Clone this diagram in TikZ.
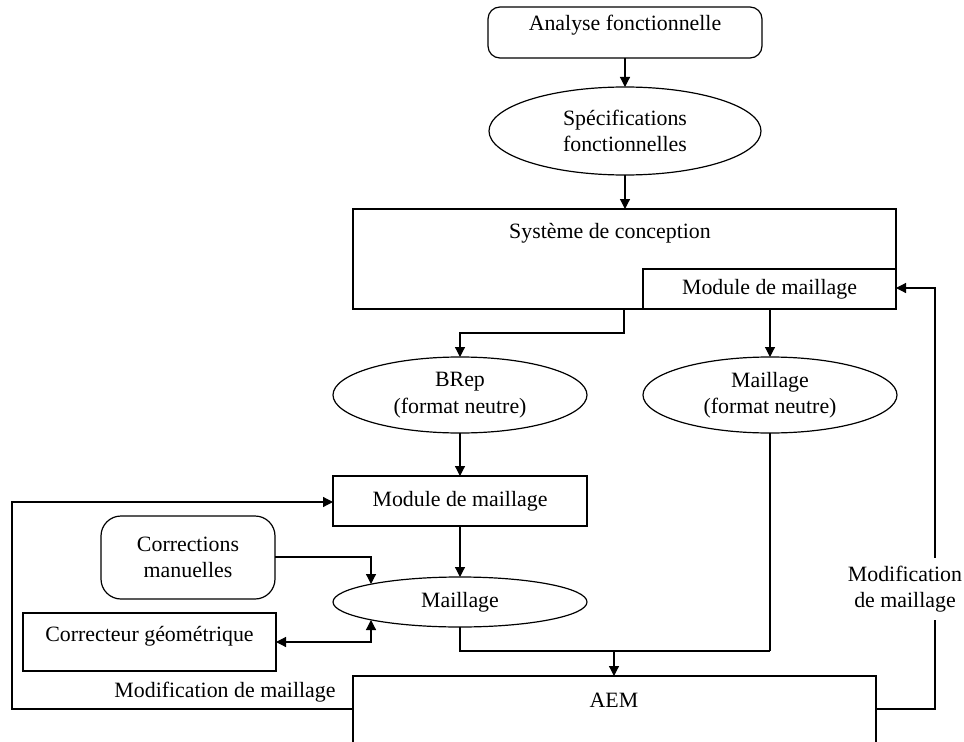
\documentclass[tikz,border=0pt]{standalone}
\usepackage{fontspec}
\setmainfont{Liberation Serif}
\usetikzlibrary{shapes.geometric,arrows.meta}
\begin{document}
\begin{tikzpicture}[x=0.75pt,y=-0.75pt,
  font=\fontsize{16.4}{19.8}\selectfont,
  every node/.style={inner sep=0pt, outer sep=0pt},
  box/.style={draw, line width=0.9pt, rectangle},
  rbox/.style={draw, line width=0.9pt, rectangle, rounded corners=#1},
  oval/.style={draw, line width=0.9pt, ellipse, align=center},
  link/.style={line width=0.9pt, -{Triangle[length=7.5pt,width=7.5pt]}},
  dlink/.style={line width=0.9pt, {Triangle[length=7.5pt,width=7.5pt]}-{Triangle[length=7.5pt,width=7.5pt]}},
  wire/.style={line width=0.9pt}]
\useasboundingbox (0,0) rectangle (964,742);
\clip (0,0) rectangle (964,742);

% upper chain
\node[rbox=9pt, minimum width=274*0.75pt, minimum height=51*0.75pt] (af) at (625,32.5) {};
\node at (625,25) {Analyse fonctionnelle};
\node[oval, minimum width=272*0.75pt, minimum height=88*0.75pt] (spec) at (625,131) {Spécifications\\fonctionnelles};

% design system with its meshing module
\node[box, minimum width=543*0.75pt, minimum height=100*0.75pt] (sys) at (624.5,259) {};
\node at (610,233) {Système de conception};
\node[box, minimum width=253*0.75pt, minimum height=40*0.75pt] (mod1) at (769.5,289) {Module de maillage};

% neutral formats
\node[oval, minimum width=254*0.75pt, minimum height=76*0.75pt] (brep) at (460,395) {BRep\\(format neutre)};
\node[oval, minimum width=254*0.75pt, minimum height=76*0.75pt] (mneu) at (770,395) {Maillage\\(format neutre)};

% meshing chain
\node[box, minimum width=254*0.75pt, minimum height=50*0.75pt] (mod2) at (460,501) {Module de maillage};
\node[oval, minimum width=254*0.75pt, minimum height=50*0.75pt] (mail) at (460,602) {Maillage};
\node[rbox=15pt, minimum width=174*0.75pt, minimum height=83*0.75pt, align=center] (corr) at (188,557.5) {Corrections\\manuelles};
\node[box, minimum width=253*0.75pt, minimum height=58*0.75pt] (geo) at (149.5,642) {};
\node at (149.5,636) {Correcteur géométrique};

% analysis box (runs past the lower edge)
\node[box, minimum width=523*0.75pt, minimum height=130*0.75pt] (aem) at (614.5,741) {};
\node at (614,700) {AEM};

% connectors
\draw[link] (af) -- (spec);
\draw[link] (spec) -- (sys.north -| spec);
\draw[link] (sys.south -| 624,0) -- (624,333) -- (460,333) -- (brep.north);
\draw[link] (mod1.south -| mneu) -- (mneu.north);
\draw[link] (brep) -- (mod2);
\draw[link] (mod2) -- (mail);
\draw[link] (corr.east |- 0,557) -- (371,557) -- (371,584);
\draw[dlink] (geo.east |- 0,642) -- (371,642) -- (371,620);
\draw[wire] (mail.south) -- (460,651) -- (770,651);
\draw[wire] (mneu.south) -- (770,651);
\coordinate (join) at (614,651);
\draw[link] (join) -- (aem.north -| join);

% feedback loops
\draw[link] (aem.west |- 0,709) -- (12,709) -- (12,502) -- (mod2.west |- 0,502);
\node at (225,692) {Modification de maillage};
\draw[link] (aem.east |- 0,709) -- (935,709) -- (935,288) -- (mod1.east |- 0,288);
\node[fill=white, align=center, inner ysep=6pt] at (905,589) {Modification\\de maillage};
\end{tikzpicture}
\end{document}
